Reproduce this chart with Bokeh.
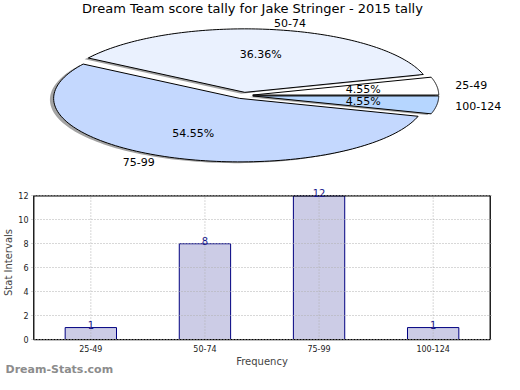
import numpy as np
from bokeh.plotting import figure
from bokeh.models import (ColumnDataSource, Range1d, FactorRange, LabelSet, FixedTicker, Title)
from bokeh.core.properties import value
from bokeh.embed import file_html
from bokeh.resources import INLINE

# ---------------- data ----------------
title = "Dream Team score tally for Jake Stringer - 2015 tally"
categories = ["25-49", "50-74", "75-99", "100-124"]
counts = [1, 8, 12, 1]
pie_colors = ["#ffffff", "#eaf1fe", "#c4d8fe", "#b6d6ff"]
y_ticks = [0, 2, 4, 6, 8, 10, 12]
y_label = "Stat Intervals"
x_label = "Frequency"
watermark = "Dream-Stats.com"

FONT = "DejaVu Sans"
W = 504
PIE_H = 170
BAR_H = 204

# ---------------- pie ----------------
CX, CY, RX, RY = 243.0, 95.0, 186.0, 63.5   # screen placement of the (elliptical) pie
EXPLODE = 0.05
SHADOW = 0.02

pie = figure(width=W, height=PIE_H, output_backend="svg", toolbar_location=None,
             x_axis_location=None, y_axis_location=None, title=None,
             x_range=Range1d(-CX / RX, (W - CX) / RX),
             y_range=Range1d(-(PIE_H - CY) / RY, CY / RY),
             min_border=0, min_border_left=0, min_border_right=0,
             min_border_top=0, min_border_bottom=0)
pie.grid.visible = False
pie.outline_line_color = None

total = float(sum(counts))
fracs = [c / total for c in counts]
starts = np.concatenate([[0.0], np.cumsum(fracs)[:-1]]) * 2 * np.pi
ends = np.cumsum(fracs) * 2 * np.pi

xs, ys, sxs, sys_ = [], [], [], []
lab_x, lab_y, lab_align, pct_x, pct_y, pct_text = [], [], [], [], [], []
for a0, a1, f in zip(starts, ends, fracs):
    mid = 0.5 * (a0 + a1)
    ox, oy = EXPLODE * np.cos(mid), EXPLODE * np.sin(mid)
    th = np.linspace(a0, a1, 120)
    px = np.concatenate([[ox], ox + np.cos(th), [ox]])
    py = np.concatenate([[oy], oy + np.sin(th), [oy]])
    xs.append(list(px)); ys.append(list(py))
    sxs.append(list(px - SHADOW)); sys_.append(list(py - SHADOW))
    lx = ox + 1.1 * np.cos(mid)
    lab_x.append(lx); lab_y.append(oy + 1.1 * np.sin(mid))
    lab_align.append("left" if lx > 0 else "right")
    pct_x.append(ox + 0.6 * np.cos(mid)); pct_y.append(oy + 0.6 * np.sin(mid))
    pct_text.append("%.2f%%" % (f * 100))

pie.patches(xs=sxs, ys=sys_, fill_color="#333333", fill_alpha=0.45, line_color=None)
pie.patches(xs=xs, ys=ys, fill_color=pie_colors, line_color="black", line_width=1)

lab_src = ColumnDataSource(dict(x=lab_x, y=lab_y, t=categories, a=lab_align))
pie.text(x="x", y="y", text="t", text_align="a", text_baseline="middle", source=lab_src,
         text_font=value(FONT), text_font_size="11px", text_color="black")
pct_src = ColumnDataSource(dict(x=pct_x, y=pct_y, t=pct_text))
pie.text(x="x", y="y", text="t", text_align="center", text_baseline="middle", source=pct_src,
         text_font=value(FONT), text_font_size="11px", text_color="black")

pie.text(x=[(pie.x_range.start + pie.x_range.end) / 2], y=[pie.y_range.end], text=[title],
         text_align="center", text_baseline="top", y_offset=0,
         text_font=value(FONT), text_font_size="13px", text_color="black")

# ---------------- bars ----------------
Y_MAX = max(y_ticks)
bar = figure(x_range=FactorRange(*categories, range_padding=0.02, range_padding_units="absolute"),
             y_range=Range1d(-0.08, Y_MAX + 0.95),
             width=W, height=BAR_H, output_backend="svg", toolbar_location=None, title=None,
             min_border_top=14, min_border_right=12, min_border_left=0, min_border_bottom=34)
bar.outline_line_color = None

src = ColumnDataSource(dict(x=categories, top=counts, lab=[str(c) for c in counts]))
bar.vbar(x="x", top="top", width=0.45, source=src,
         fill_color="#ccccE6", line_color="#000080", line_width=1)

# dotted grid drawn over the bars, limited to the plot box
bar.xgrid.visible = False
bar.segment(x0=categories, y0=[0] * len(categories), x1=categories, y1=[Y_MAX] * len(categories),
            line_color="#b0b0b0", line_dash="1 2", line_width=1)
bar.ygrid.grid_line_color = "#b0b0b0"
bar.ygrid.grid_line_dash = "1 2"
bar.ygrid.grid_line_width = 1
bar.ygrid.level = "annotation"
bar.ygrid.bounds = (0, len(categories))

# plot box (axes frame) spanning the categories and 0..Y_MAX
bar.quad(left=[0], right=[len(categories)], bottom=[0], top=[Y_MAX],
         fill_color=None, line_color="black", line_width=1.3, level="annotation")

bar.add_layout(LabelSet(x="x", y="top", text="lab", source=src, text_align="center",
                        text_baseline="bottom", y_offset=-1, text_color="#1a1a8c",
                        text_font=value(FONT), text_font_size="10px"))

bar.yaxis.ticker = FixedTicker(ticks=y_ticks)
for ax in (bar.xaxis, bar.yaxis):
    ax.axis_line_color = None
    ax.major_tick_in = 0
    ax.major_tick_out = 0
    ax.minor_tick_line_color = None
    ax.major_label_text_font = FONT
    ax.major_label_text_font_size = "8px"
    ax.major_label_text_color = "#222222"
    ax.major_label_standoff = 3
    ax.axis_label_text_font = FONT
    ax.axis_label_text_font_size = "10px"
    ax.axis_label_text_font_style = "normal"
    ax.axis_label_standoff = 1
bar.xaxis.major_label_standoff = 4
bar.yaxis.axis_label = y_label
bar.xaxis.axis_label = x_label

bar.add_layout(Title(text=watermark, align="left", offset=-26, standoff=-14, vertical_align="top",
                     text_font=FONT, text_font_size="11px", text_font_style="bold",
                     text_color="#8c8c8c"), "below")

open("out.html", "w").write(file_html([pie, bar], INLINE))
